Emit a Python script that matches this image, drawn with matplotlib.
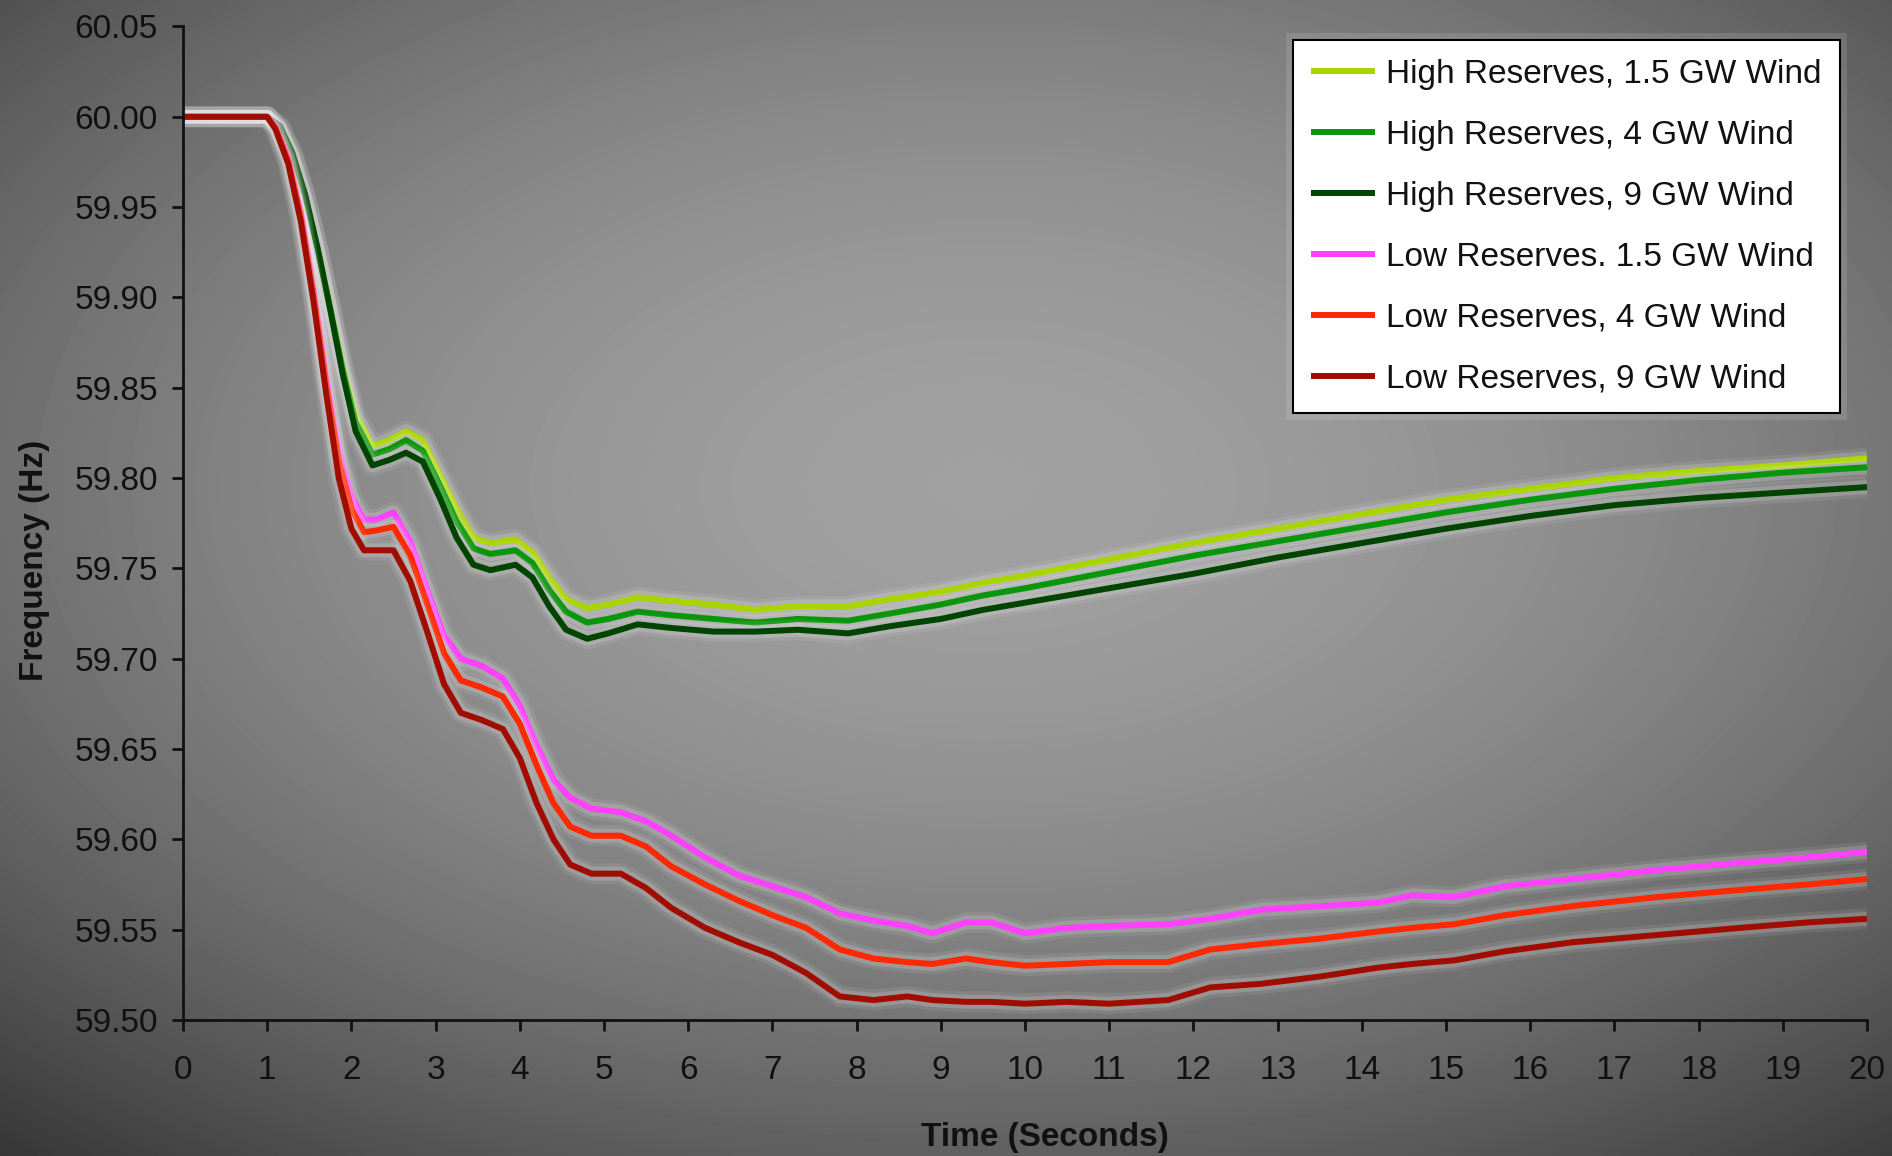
import numpy as np
import matplotlib.pyplot as plt
from matplotlib import patheffects as pe

plt.rcParams['font.family'] = ['Liberation Sans', 'DejaVu Sans']

# time grids (seconds)
t_high = [0, 1.0, 1.15, 1.3, 1.45, 1.6, 1.75, 1.9, 2.05, 2.25, 2.45, 2.65, 2.85, 3.05,
          3.25, 3.45, 3.65, 3.95, 4.15, 4.35, 4.55, 4.8, 5.05, 5.4, 5.8, 6.3, 6.8, 7.3,
          7.9, 8.4, 9.0, 9.5, 10, 11, 12, 13, 14, 15, 16, 17, 18, 19, 20]
t_low = [0, 1.0, 1.1, 1.25, 1.4, 1.55, 1.7, 1.85, 2.0, 2.15, 2.3, 2.5, 2.7, 2.9, 3.1,
         3.3, 3.55, 3.8, 4.0, 4.2, 4.4, 4.6, 4.85, 5.2, 5.5, 5.8, 6.2, 6.6, 7.0, 7.4,
         7.8, 8.2, 8.6, 8.9, 9.3, 9.6, 10.0, 10.5, 11.0, 11.7, 12.2, 12.8, 13.5, 14.2,
         14.6, 15.1, 15.7, 16.5, 17.5, 18.5, 19.3, 20]

high_1_5 = [60.0, 60.0, 59.993, 59.978, 59.955, 59.927, 59.895, 59.862, 59.835, 59.818,
            59.821, 59.826, 59.821, 59.802, 59.783, 59.767, 59.764, 59.766, 59.759,
            59.745, 59.733, 59.728, 59.730, 59.734, 59.732, 59.730, 59.727, 59.729,
            59.729, 59.733, 59.737, 59.742, 59.746, 59.755, 59.764, 59.772, 59.780,
            59.788, 59.794, 59.800, 59.804, 59.807, 59.811]
high_4 = [60.0, 60.0, 59.994, 59.979, 59.956, 59.927, 59.894, 59.860, 59.831, 59.813,
          59.816, 59.821, 59.815, 59.796, 59.776, 59.761, 59.758, 59.760, 59.753,
          59.738, 59.726, 59.720, 59.722, 59.726, 59.724, 59.722, 59.720, 59.722,
          59.721, 59.725, 59.730, 59.735, 59.739, 59.748, 59.757, 59.765, 59.773,
          59.781, 59.788, 59.794, 59.799, 59.803, 59.806]
high_9 = [60.0, 60.0, 59.995, 59.980, 59.957, 59.927, 59.893, 59.857, 59.826, 59.807,
          59.810, 59.814, 59.809, 59.789, 59.767, 59.752, 59.749, 59.752, 59.745,
          59.729, 59.716, 59.711, 59.714, 59.719, 59.717, 59.715, 59.715, 59.716,
          59.714, 59.718, 59.722, 59.727, 59.731, 59.739, 59.747, 59.756, 59.764,
          59.772, 59.779, 59.785, 59.789, 59.792, 59.795]

low_1_5 = [60.0, 60.0, 59.995, 59.978, 59.948, 59.905, 59.857, 59.815, 59.790, 59.777,
           59.777, 59.781, 59.765, 59.738, 59.713, 59.700, 59.696, 59.689, 59.674,
           59.652, 59.633, 59.623, 59.617, 59.615, 59.610, 59.602, 59.590, 59.580,
           59.574, 59.568, 59.559, 59.555, 59.552, 59.548, 59.554, 59.554, 59.548,
           59.551, 59.552, 59.553, 59.556, 59.561, 59.563, 59.565, 59.569, 59.568,
           59.574, 59.578, 59.583, 59.587, 59.590, 59.593]
low_4 = [60.0, 60.0, 59.994, 59.976, 59.945, 59.902, 59.853, 59.810, 59.783, 59.770,
         59.771, 59.773, 59.757, 59.730, 59.703, 59.688, 59.684, 59.679, 59.664,
         59.641, 59.620, 59.607, 59.602, 59.602, 59.596, 59.585, 59.575, 59.566,
         59.558, 59.551, 59.539, 59.534, 59.532, 59.531, 59.534, 59.532, 59.530,
         59.531, 59.532, 59.532, 59.539, 59.542, 59.545, 59.549, 59.551, 59.553,
         59.558, 59.563, 59.568, 59.572, 59.575, 59.578]
low_9 = [60.0, 60.0, 59.993, 59.974, 59.942, 59.898, 59.847, 59.800, 59.772, 59.760,
         59.760, 59.760, 59.743, 59.715, 59.686, 59.670, 59.666, 59.661, 59.645,
         59.620, 59.600, 59.586, 59.581, 59.581, 59.573, 59.562, 59.551, 59.543,
         59.536, 59.526, 59.513, 59.511, 59.513, 59.511, 59.510, 59.510, 59.509,
         59.510, 59.509, 59.511, 59.518, 59.520, 59.524, 59.529, 59.531, 59.533,
         59.538, 59.543, 59.547, 59.551, 59.554, 59.556]

series = [
    (t_high, high_1_5, "#aad400", "High Reserves, 1.5 GW Wind"),
    (t_high, high_4, "#0a960a", "High Reserves, 4 GW Wind"),
    (t_high, high_9, "#004400", "High Reserves, 9 GW Wind"),
    (t_low, low_1_5, "#ff40ff", "Low Reserves. 1.5 GW Wind"),
    (t_low, low_4, "#ff2800", "Low Reserves, 4 GW Wind"),
    (t_low, low_9, "#a00c00", "Low Reserves, 9 GW Wind"),
]

fig = plt.figure(figsize=(18.92, 11.56), dpi=100)

# grey vignette background
bg = fig.add_axes([0, 0, 1, 1], zorder=-10)
yy, xx = np.mgrid[0:1:300j, 0:1:480j]
r = np.sqrt(((xx - 0.52) / 0.78) ** 2 + ((yy - 0.42) / 0.75) ** 2)
shade = 0.63 - 0.40 * np.clip(r, 0, 1.2) ** 1.8
bg.imshow(shade, cmap="gray", vmin=0, vmax=1, aspect="auto", extent=(0, 1, 0, 1),
          interpolation="bicubic")
bg.axis("off")

ax = fig.add_axes([0.0967, 0.1177, 0.8901, 0.8594])
ax.patch.set_alpha(0)

glow = [pe.Stroke(linewidth=15, foreground="white", alpha=0.08),
        pe.Stroke(linewidth=10, foreground="white", alpha=0.16),
        pe.Normal()]
for t, v, c, lab in series:
    ax.plot(t, v, color=c, lw=4.3, label=lab, path_effects=glow, solid_capstyle="butt")

ax.set_xlim(0, 20)
ax.set_ylim(59.50, 60.05)
ax.set_xticks(range(0, 21))
ax.set_yticks(np.arange(59.50, 60.051, 0.05))
ax.yaxis.set_major_formatter(plt.FormatStrFormatter("%.2f"))

for s in ["top", "right"]:
    ax.spines[s].set_visible(False)
for s in ["left", "bottom"]:
    ax.spines[s].set_linewidth(2)
    ax.spines[s].set_color("#111111")

ax.tick_params(direction="out", length=8, width=2, colors="#111111", labelsize=24)
ax.tick_params(axis="y", pad=10)
ax.tick_params(axis="x", pad=17)

ax.set_xlabel("Time (Seconds)", fontsize=24, fontweight="bold", color="#111111")
ax.xaxis.set_label_coords(0.512, -0.118)
ax.xaxis.label.set_va("center")
ax.set_ylabel("Frequency (Hz)", fontsize=24, fontweight="bold", color="#111111")
ax.yaxis.set_label_coords(-0.088, 0.463)
ax.yaxis.label.set_va("center")

leg = ax.legend(loc="upper right", bbox_to_anchor=(0.984, 0.986), fontsize=24,
                frameon=True, fancybox=False, edgecolor="black", framealpha=1,
                handlelength=1.9, labelspacing=0.9, borderpad=0.55,
                handletextpad=0.35, borderaxespad=0)
leg.get_frame().set_linewidth(1.5)
leg.get_frame().set_path_effects([pe.Stroke(linewidth=10, foreground="white", alpha=0.12),
                                  pe.Normal()])
for txt in leg.get_texts():
    txt.set_color("#111111")

fig.savefig("out.png", dpi=100)
